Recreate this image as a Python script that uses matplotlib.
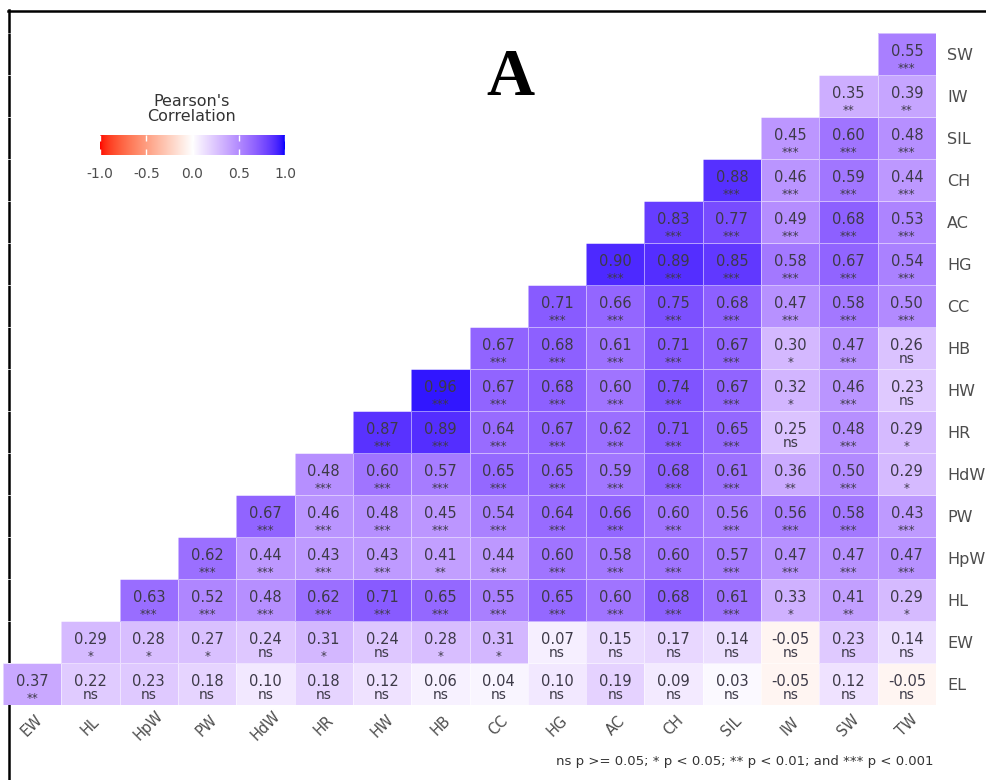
import numpy as np
import matplotlib
matplotlib.use("Agg")
import matplotlib.pyplot as plt
from matplotlib.colors import ListedColormap
from matplotlib.lines import Line2D

# columns (bottom axis) and rows (right axis, listed bottom -> top)
cols = ['EW', 'HL', 'HpW', 'PW', 'HdW', 'HR', 'HW', 'HB', 'CC', 'HG', 'AC', 'CH', 'SIL', 'IW', 'SW', 'TW']
rows = ['EL', 'EW', 'HL', 'HpW', 'PW', 'HdW', 'HR', 'HW', 'HB', 'CC', 'HG', 'AC', 'CH', 'SIL', 'IW', 'SW']

# each row starts at the column with the same index and runs to TW
r_EL = [0.37, 0.22, 0.23, 0.18, 0.10, 0.18, 0.12, 0.06, 0.04, 0.10, 0.19, 0.09, 0.03, -0.05, 0.12, -0.05]
p_EL = ['**', 'ns', 'ns', 'ns', 'ns', 'ns', 'ns', 'ns', 'ns', 'ns', 'ns', 'ns', 'ns', 'ns', 'ns', 'ns']
r_EW = [0.29, 0.28, 0.27, 0.24, 0.31, 0.24, 0.28, 0.31, 0.07, 0.15, 0.17, 0.14, -0.05, 0.23, 0.14]
p_EW = ['*', '*', '*', 'ns', '*', 'ns', '*', '*', 'ns', 'ns', 'ns', 'ns', 'ns', 'ns', 'ns']
r_HL = [0.63, 0.52, 0.48, 0.62, 0.71, 0.65, 0.55, 0.65, 0.60, 0.68, 0.61, 0.33, 0.41, 0.29]
p_HL = ['***'] * 11 + ['*', '**', '*']
r_HpW = [0.62, 0.44, 0.43, 0.43, 0.41, 0.44, 0.60, 0.58, 0.60, 0.57, 0.47, 0.47, 0.47]
p_HpW = ['***', '***', '***', '***', '**', '***', '***', '***', '***', '***', '***', '***', '***']
r_PW = [0.67, 0.46, 0.48, 0.45, 0.54, 0.64, 0.66, 0.60, 0.56, 0.56, 0.58, 0.43]
p_PW = ['***'] * 12
r_HdW = [0.48, 0.60, 0.57, 0.65, 0.65, 0.59, 0.68, 0.61, 0.36, 0.50, 0.29]
p_HdW = ['***'] * 8 + ['**', '***', '*']
r_HR = [0.87, 0.89, 0.64, 0.67, 0.62, 0.71, 0.65, 0.25, 0.48, 0.29]
p_HR = ['***'] * 7 + ['ns', '***', '*']
r_HW = [0.96, 0.67, 0.68, 0.60, 0.74, 0.67, 0.32, 0.46, 0.23]
p_HW = ['***'] * 6 + ['*', '***', 'ns']
r_HB = [0.67, 0.68, 0.61, 0.71, 0.67, 0.30, 0.47, 0.26]
p_HB = ['***'] * 5 + ['*', '***', 'ns']
r_CC = [0.71, 0.66, 0.75, 0.68, 0.47, 0.58, 0.50]
p_CC = ['***'] * 7
r_HG = [0.90, 0.89, 0.85, 0.58, 0.67, 0.54]
p_HG = ['***'] * 6
r_AC = [0.83, 0.77, 0.49, 0.68, 0.53]
p_AC = ['***'] * 5
r_CH = [0.88, 0.46, 0.59, 0.44]
p_CH = ['***'] * 4
r_SIL = [0.45, 0.60, 0.48]
p_SIL = ['***'] * 3
r_IW = [0.35, 0.39]
p_IW = ['**', '**']
r_SW = [0.55]
p_SW = ['***']

row_vals = [r_EL, r_EW, r_HL, r_HpW, r_PW, r_HdW, r_HR, r_HW, r_HB, r_CC, r_HG, r_AC, r_CH, r_SIL, r_IW, r_SW]
row_sig = [p_EL, p_EW, p_HL, p_HpW, p_PW, p_HdW, p_HR, p_HW, p_HB, p_CC, p_HG, p_AC, p_CH, p_SIL, p_IW, p_SW]

n = len(cols)
M = np.full((n, n), np.nan)
S = [[None] * n for _ in range(n)]
for i, (vals, sig) in enumerate(zip(row_vals, row_sig)):
    for k, (v, s) in enumerate(zip(vals, sig)):
        M[i, i + k] = v
        S[i][i + k] = s


# red - white - blue gradient interpolated in CIELAB (like ggplot's gradient2)
def srgb_to_lab(c):
    c = np.asarray(c, float)
    lin = np.where(c <= 0.04045, c / 12.92, ((c + 0.055) / 1.055) ** 2.4)
    m = np.array([[0.4124, 0.3576, 0.1805], [0.2126, 0.7152, 0.0722], [0.0193, 0.1192, 0.9505]])
    xyz = m @ lin / np.array([0.95047, 1.0, 1.08883])
    f = np.where(xyz > 0.008856, np.cbrt(xyz), 7.787 * xyz + 16 / 116)
    return np.array([116 * f[1] - 16, 500 * (f[0] - f[1]), 200 * (f[1] - f[2])])


def lab_to_srgb(lab):
    L, a, b = lab
    fy = (L + 16) / 116
    fx = fy + a / 500
    fz = fy - b / 200
    f = np.array([fx, fy, fz])
    xyz = np.where(f ** 3 > 0.008856, f ** 3, (f - 16 / 116) / 7.787) * np.array([0.95047, 1.0, 1.08883])
    minv = np.array([[3.2406, -1.5372, -0.4986], [-0.9689, 1.8758, 0.0415], [0.0557, -0.2040, 1.0570]])
    lin = np.clip(minv @ xyz, 0, 1)
    return np.clip(np.where(lin <= 0.0031308, 12.92 * lin, 1.055 * lin ** (1 / 2.4) - 0.055), 0, 1)


lab_red, lab_white, lab_blue = srgb_to_lab([1, 0, 0]), srgb_to_lab([1, 1, 1]), srgb_to_lab([0, 0, 1])
ramp = []
for v in np.linspace(-1, 1, 256):
    end = lab_red if v < 0 else lab_blue
    ramp.append(lab_to_srgb(lab_white + abs(v) * (end - lab_white)))
cmap = ListedColormap(ramp)

W, H = 986, 780
fig = plt.figure(figsize=(W / 100, H / 100), dpi=100)


def box(x0, y0, x1, y1):
    return [x0 / W, 1 - y1 / H, (x1 - x0) / W, (y1 - y0) / H]


# outer frame (top and left edges visible)
fig.add_artist(Line2D([8.5 / W, 8.5 / W], [0, 1 - 10 / H], color='black', lw=1.8, zorder=-1))
fig.add_artist(Line2D([8 / W, 1], [1 - 10.5 / H, 1 - 10.5 / H], color='black', lw=1.8, zorder=-1))

ax = fig.add_axes(box(3, 33, 936, 705))
ax.set_facecolor('none')
ax.pcolormesh(np.arange(n + 1) - 0.5, np.arange(n + 1) - 0.5, np.ma.masked_invalid(M),
              cmap=cmap, vmin=-1, vmax=1, edgecolors=(1, 1, 1, 0.5), linewidth=0.6)

txt = '#3d3a48'
for i in range(n):
    for j in range(n):
        if np.isnan(M[i, j]):
            continue
        ax.text(j, i - 0.055, f"{M[i, j]:.2f}", ha='center', va='baseline', fontsize=10.5, color=txt)
        s = S[i][j]
        if s == 'ns':
            ax.text(j, i - 0.35, s, ha='center', va='baseline', fontsize=10, color=txt)
        else:
            ax.text(j, i - 0.43, s, ha='center', va='baseline', fontsize=8.5, color=txt)

ax.set_xlim(-0.5, n - 0.5)
ax.set_ylim(-0.5, n - 0.5)
for sp in ax.spines.values():
    sp.set_visible(False)
ax.yaxis.tick_right()
ax.set_yticks(range(n))
ax.set_yticklabels(rows, fontsize=11.5, color='#4d4d4d')
ax.set_xticks(range(n))
ax.set_xticklabels(cols, fontsize=10.5, color='#4d4d4d', rotation=45,
                   ha='center', va='center', rotation_mode='anchor')
ax.tick_params(axis='y', length=0, pad=8)
ax.tick_params(axis='x', length=0, pad=15)

# title letter
fig.text(510 / W, 1 - 95 / H, 'A', family='Liberation Serif', weight='bold', fontsize=48,
         ha='center', va='baseline', color='black')

# legend
fig.text(192 / W, 1 - 109 / H, "Pearson's\nCorrelation", ha='center', va='center',
         fontsize=11.5, color='#333333', linespacing=1.05)
cax = fig.add_axes(box(100, 135, 285, 155))
cax.imshow(np.linspace(-1, 1, 256)[None, :], cmap=cmap, vmin=-1, vmax=1,
           extent=(-1, 1, 0, 1), aspect='auto')
cax.set_yticks([])
cax.set_xticks([-1, -0.5, 0, 0.5, 1])
cax.set_xticklabels(['-1.0', '-0.5', '0.0', '0.5', '1.0'], fontsize=10, color='#4d4d4d')
cax.tick_params(axis='x', direction='in', color='white', length=4, width=1, top=True, bottom=True, pad=9)
for sp in cax.spines.values():
    sp.set_visible(False)

fig.text(933 / W, 1 - 762 / H, "ns p >= 0.05; * p < 0.05; ** p < 0.01; and *** p < 0.001",
         ha='right', va='center', fontsize=9.5, color='#333333')

fig.savefig('out.png', dpi=100)
